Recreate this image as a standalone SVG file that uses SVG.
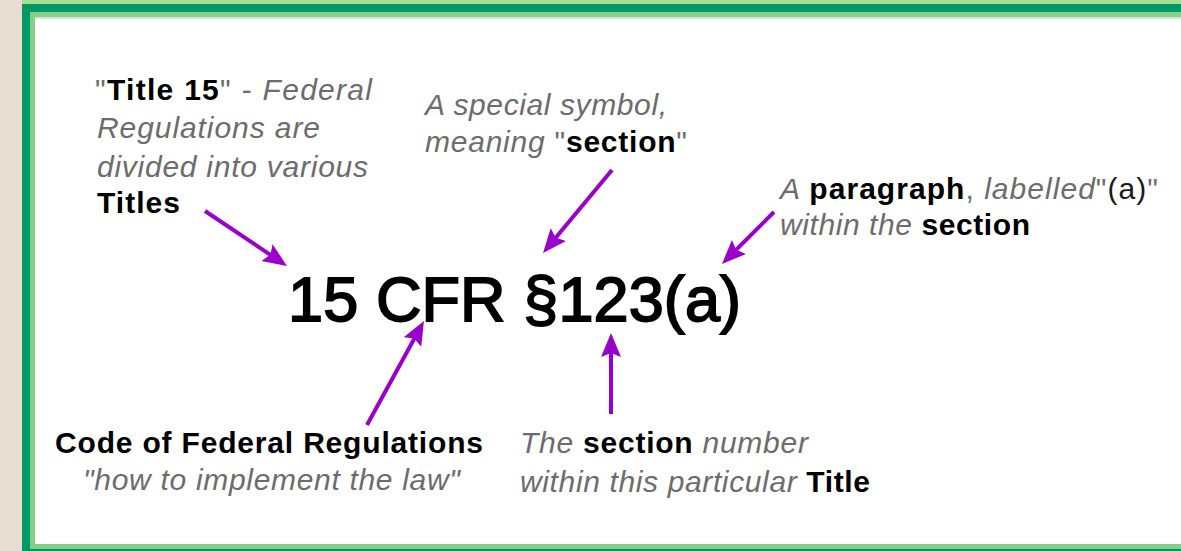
<svg xmlns="http://www.w3.org/2000/svg" width="1181" height="551" viewBox="0 0 1181 551">
<style>
.t{font-family:"Liberation Sans",Arial,Helvetica,sans-serif;font-size:30px;fill:#6c6c6c}
.b{font-weight:bold;font-style:normal;fill:#000}
.i{font-style:italic;fill:#6c6c6c}
.g{fill:#6c6c6c}
.k{fill:#1a1a1a}
.big{font-family:"Liberation Sans",Arial,Helvetica,sans-serif;font-size:63px;fill:#000;stroke:#000;stroke-width:1.8}
.arrow{stroke:#9900cc;stroke-width:4;fill:none;marker-end:url(#ah)}
</style>
<defs>
<marker id="ah" markerUnits="userSpaceOnUse" markerWidth="26" markerHeight="22" refX="12" refY="10" orient="auto" viewBox="0 0 26 22">
<path d="M0,0 L24,10 L0,20 L4,10 z" fill="#9900cc"/>
</marker>
</defs>
<g id="frame">
<rect x="0" y="0" width="1181" height="551" fill="#e6ddd3"/>
<rect x="22" y="0" width="1159" height="551" fill="#a6df8f"/>
<rect x="22" y="4" width="1159" height="547" fill="#009966"/>
<rect x="30" y="12" width="1151" height="537" fill="#86cf86"/>
<rect x="35" y="17" width="1146" height="527" fill="#ffffff"/>
<rect x="35" y="17" width="1146" height="2" fill="#cfe9dc"/>
</g>
<g id="n-title">
<text class="t" x="95" y="100" textLength="277" lengthAdjust="spacing"><tspan class="g">"</tspan><tspan class="b">Title 15</tspan><tspan class="g">" - </tspan><tspan class="i">Federal</tspan></text>
<text class="t i" x="97" y="138" textLength="223" lengthAdjust="spacing">Regulations are</text>
<text class="t i" x="97" y="177" textLength="271" lengthAdjust="spacing">divided into various</text>
<text class="t b" x="97" y="213" textLength="83" lengthAdjust="spacing">Titles</text>
</g>
<g id="n-symbol">
<text class="t i" x="425" y="115" textLength="242" lengthAdjust="spacing">A special symbol,</text>
<text class="t" x="425" y="152" textLength="262" lengthAdjust="spacing"><tspan class="i">meaning</tspan><tspan class="g"> "</tspan><tspan class="b">section</tspan><tspan class="g">"</tspan></text>
</g>
<g id="n-paragraph">
<text class="t" x="780" y="199" textLength="378" lengthAdjust="spacing"><tspan class="i">A </tspan><tspan class="b">paragraph</tspan><tspan class="g">, </tspan><tspan class="i">labelled</tspan><tspan class="g">"</tspan><tspan class="k">(a)</tspan><tspan class="g">"</tspan></text>
<text class="t" x="780" y="235" textLength="250" lengthAdjust="spacing"><tspan class="i">within the </tspan><tspan class="b">section</tspan></text>
</g>
<g id="n-citation">
<text class="big" x="288" y="321" textLength="453" lengthAdjust="spacing">15 CFR §123(a)</text>
</g>
<g id="n-cfr">
<text class="t b" x="55" y="453" textLength="428" lengthAdjust="spacing">Code of Federal Regulations</text>
<text class="t i" x="83" y="490" textLength="377" lengthAdjust="spacing">"how to implement the law"</text>
</g>
<g id="n-section-number">
<text class="t" x="520" y="453" textLength="288" lengthAdjust="spacing"><tspan class="i">The </tspan><tspan class="b">section</tspan><tspan class="i"> number</tspan></text>
<text class="t" x="520" y="492" textLength="350" lengthAdjust="spacing"><tspan class="i">within this particular </tspan><tspan class="b">Title</tspan></text>
</g>
<g id="connectors">
<line class="arrow" x1="205" y1="211" x2="277" y2="259.3"/>
<line class="arrow" x1="612" y1="170" x2="550.7" y2="243.8"/>
<line class="arrow" x1="774" y1="212" x2="730.5" y2="255.5"/>
<line class="arrow" x1="367" y1="425" x2="418.2" y2="331.5"/>
<line class="arrow" x1="611" y1="414" x2="611" y2="345"/>
</g>
</svg>
